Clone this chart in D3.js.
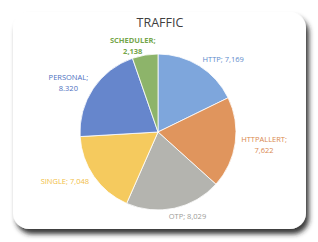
<!DOCTYPE html>
<html>
<head>
<meta charset="utf-8">
<script src="https://cdn.jsdelivr.net/npm/d3@7"></script>
<style>
  html, body { margin: 0; padding: 0; background: #fff; }
  svg { display: block; font-family: "Open Sans", "Liberation Sans", sans-serif; }
</style>
</head>
<body>
<svg id="chart" width="318" height="242"></svg>
<script>
  // ---- Data ----
  const categories = ["HTTP", "HTTPALLERT", "OTP", "SINGLE", "PERSONAL", "SCHEDULER"];
  const values = [7169, 7622, 8029, 7048, 8320, 2138];
  const valueLabels = ["7,169", "7,622", "8,029", "7,048", "8.320", "2,138"];
  const twoLine = [false, true, false, false, true, true];
  const sliceColors = ["#7EA6DC", "#E0955D", "#B4B4AF", "#F5CA5E", "#6686CC", "#8DB46A"];
  const labelColors = ["#5E8ACB", "#D9884F", "#9C9C98", "#F1BE45", "#4D70C0", "#74A64B"];

  const W = 318, H = 242;
  const cx = 158, cy = 132, r = 78;

  const svg = d3.select("#chart");

  // card with shadow
  const defs = svg.append("defs");
  const f = defs.append("filter").attr("id", "shadow")
    .attr("x", "-10%").attr("y", "-10%").attr("width", "130%").attr("height", "130%");
  f.append("feDropShadow").attr("dx", 3).attr("dy", 5).attr("stdDeviation", 2.5)
    .attr("flood-color", "#222").attr("flood-opacity", 0.9);

  svg.append("rect")
    .attr("x", 13).attr("y", 12).attr("width", 293).attr("height", 217)
    .attr("rx", 16).attr("ry", 16)
    .attr("fill", "#fff")
    .attr("filter", "url(#shadow)");

  svg.append("text")
    .attr("x", 160).attr("y", 27)
    .attr("text-anchor", "middle")
    .attr("font-size", 12.5)
    .attr("fill", "#404040")
    .text("TRAFFIC");

  const pie = d3.pie().sort(null).value((d) => d);
  const arcs = pie(values);
  const arc = d3.arc().innerRadius(0).outerRadius(r);

  const g = svg.append("g").attr("transform", `translate(${cx},${cy})`);

  g.selectAll("path")
    .data(arcs)
    .join("path")
    .attr("d", arc)
    .attr("fill", (d, i) => sliceColors[i])
    .attr("stroke", "#fff")
    .attr("stroke-width", 0.8);

  // ---- Labels: anchor just outside the rim, box pushed sideways ----
  const fs = 7.5, lh = 11;
  arcs.forEach((d, i) => {
    const a = (d.startAngle + d.endAngle) / 2;
    const sx = Math.sin(a), sy = -Math.cos(a);
    const lines = twoLine[i]
      ? [categories[i] + ";", valueLabels[i]]
      : [categories[i] + "; " + valueLabels[i]];

    const t = g.append("text")
      .attr("text-anchor", "middle")
      .attr("font-size", fs)
      .attr("font-weight", i === 5 ? 700 : 500)
      .attr("fill", labelColors[i]);
    lines.forEach((s, k) => {
      t.append("tspan").attr("x", 0).attr("dy", k === 0 ? 0 : lh).text(s);
    });

    const bb = t.node().getBBox();
    const px = sx * (r + 6), py = sy * (r + 6);
    const ox = Math.sign(sx) * bb.width / 2 * Math.min(1, Math.abs(sx) * 3);
    const oy = sy * bb.height * 0.2;
    const ccx = px + ox, ccy = py + oy;
    t.attr("transform", `translate(${ccx - (bb.x + bb.width / 2)},${ccy - (bb.y + bb.height / 2)})`);
  });
</script>
</body>
</html>
